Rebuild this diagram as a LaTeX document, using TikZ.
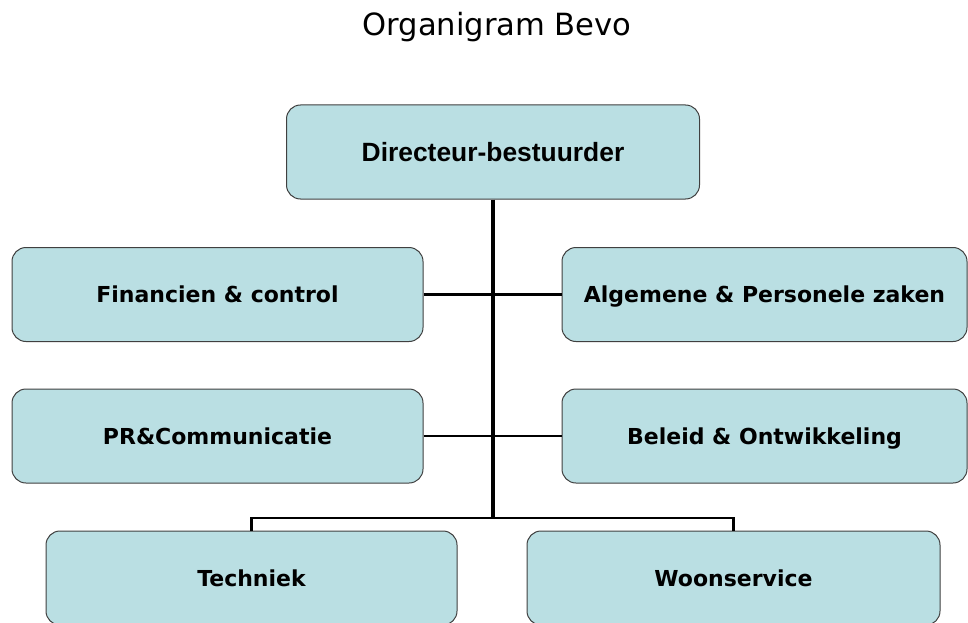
\documentclass[tikz,border=0pt]{standalone}
\usepackage{fontspec}
\newfontfamily\titlefont{DejaVu Sans}
\newfontfamily\arialfont{Liberation Sans}
\definecolor{boxfill}{RGB}{186,223,227}
\definecolor{boxline}{RGB}{64,64,64}
\begin{document}
\begin{tikzpicture}[x=1pt,y=-1pt,
		unit/.style={draw=boxline,line width=1pt,fill=boxfill,rounded corners=14pt,
			minimum width=411pt,minimum height=94pt,inner sep=0pt,text height=16pt,text depth=0pt,
			font=\titlefont\bfseries\fontsize{22}{26}\selectfont},
		trunk/.style={line width=4pt},
		branch/.style={line width=2.7pt}]
				\useasboundingbox (0,0) rectangle (968,623);
				\node[anchor=base,font=\titlefont\fontsize{30.6}{36}\selectfont] (title) at (497,36) {Organigram Bevo};
				% boxes
				\node[unit,minimum width=413pt,text height=19pt,font=\arialfont\bfseries\fontsize{26.4}{30}\selectfont] (dir) at (493,152) {Directeur-bestuurder};
				\node[unit] (fin) at (217.5,294.5) {Financien \& control};
				\node[unit,minimum width=405pt] (alg) at (764.5,294.5) {Algemene \& Personele zaken};
				\node[unit] (pr) at (217.5,436) {PR\&Communicatie};
				\node[unit,minimum width=405pt] (bel) at (764.5,436) {Beleid \& Ontwikkeling};
				\node[unit] (tech) at (251.5,578) {Techniek};
				\node[unit,minimum width=413pt] (woon) at (733.5,578) {Woonservice};
				% lines
				\coordinate (fork) at (493,518);
				\draw[branch] (fin.east) -- (alg.west);
				\draw[branch] (pr.east) -- (bel.west);
				\draw[branch] (tech.north) |- (fork) -| (woon.north);
				\draw[trunk] (dir.south) -- (fork);
		\end{tikzpicture}
\end{document}
